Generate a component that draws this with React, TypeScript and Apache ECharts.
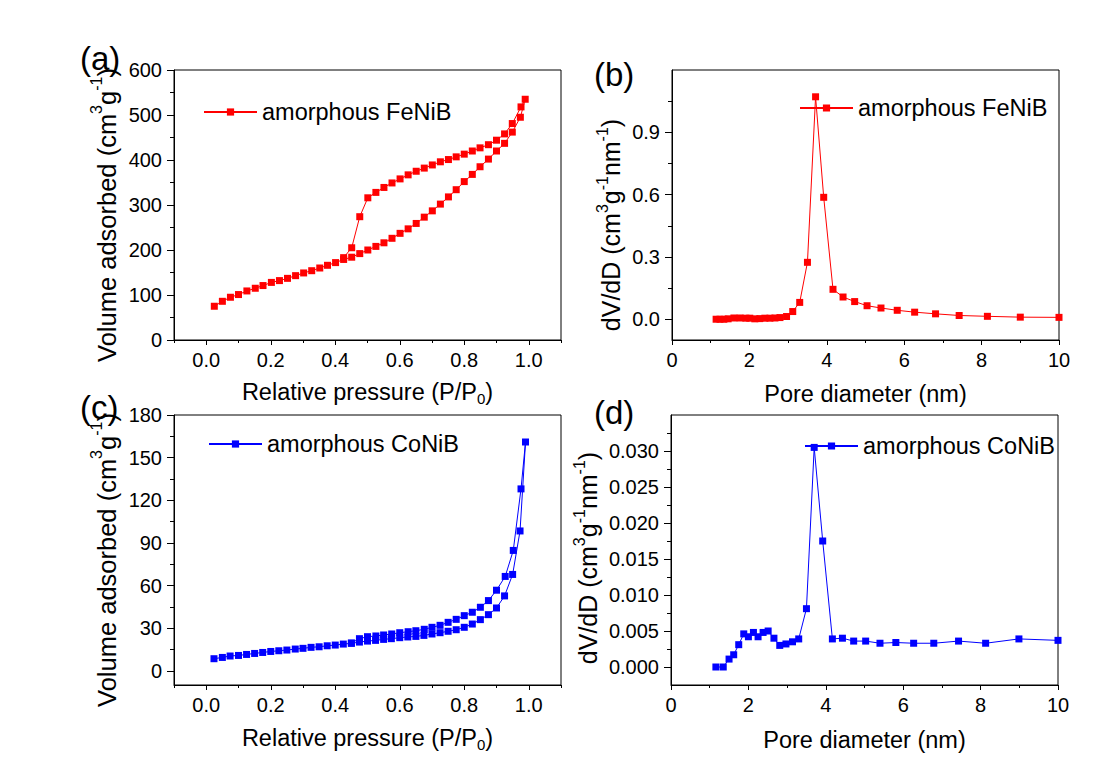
import React, { useEffect, useRef } from "react";
import * as echarts from "echarts";

// ---------- data ----------
// (a) FeNiB N2 isotherm: adsorption then desorption branch
const fenibAdsP = [0.025, 0.05, 0.075, 0.10, 0.126, 0.152, 0.176, 0.202, 0.227, 0.252, 0.277, 0.302, 0.327, 0.352, 0.376, 0.401, 0.426, 0.451, 0.476, 0.501, 0.526, 0.551, 0.576, 0.601, 0.626, 0.651, 0.676, 0.701, 0.726, 0.751, 0.775, 0.80, 0.825, 0.849, 0.875, 0.90, 0.925, 0.949, 0.974, 0.989];
const fenibAdsV = [75, 86, 95, 101, 109, 115, 121, 128, 132, 137, 143, 149, 154, 160, 166, 172, 179, 184, 192, 200, 208, 216, 226, 237, 247, 259, 273, 287, 302, 318, 334, 352, 368, 385, 402, 420, 437, 462, 495, 535];
const fenibDesP = [0.976, 0.949, 0.925, 0.90, 0.875, 0.849, 0.825, 0.80, 0.775, 0.751, 0.726, 0.701, 0.676, 0.651, 0.626, 0.601, 0.576, 0.551, 0.526, 0.501, 0.476, 0.451, 0.426];
const fenibDesV = [518, 481, 458, 444, 434, 427, 420, 413, 407, 401, 396, 389, 382, 375, 367, 358, 349, 339, 328, 316, 274, 205, 183];

// (b) FeNiB pore size distribution
const fenibPsdD = [1.14, 1.24, 1.34, 1.45, 1.60, 1.76, 1.91, 2.01, 2.14, 2.27, 2.40, 2.53, 2.66, 2.79, 2.96, 3.12, 3.30, 3.50, 3.71, 3.92, 4.16, 4.42, 4.72, 5.04, 5.40, 5.82, 6.27, 6.81, 7.42, 8.15, 9.0, 10.0];
const fenibPsdV = [0, 0, 0, 0.002, 0.006, 0.006, 0.005, 0.005, 0.002, 0.003, 0.005, 0.005, 0.006, 0.008, 0.013, 0.037, 0.081, 0.274, 1.071, 0.587, 0.144, 0.107, 0.085, 0.065, 0.054, 0.043, 0.034, 0.026, 0.018, 0.014, 0.010, 0.009];

// (c) CoNiB N2 isotherm
const conibAdsP = [0.024, 0.05, 0.074, 0.10, 0.125, 0.15, 0.175, 0.20, 0.225, 0.25, 0.276, 0.30, 0.325, 0.35, 0.375, 0.40, 0.425, 0.45, 0.475, 0.50, 0.525, 0.55, 0.574, 0.60, 0.625, 0.65, 0.675, 0.70, 0.725, 0.75, 0.775, 0.80, 0.825, 0.85, 0.875, 0.90, 0.925, 0.95, 0.973, 0.99];
const conibAdsV = [8.5, 9.4, 10.4, 10.8, 11.5, 12.2, 12.9, 13.6, 14.1, 14.6, 15.3, 15.8, 16.5, 16.9, 17.6, 18.1, 18.8, 19.3, 20.2, 20.9, 21.4, 22.1, 22.6, 23.3, 23.8, 24.2, 24.9, 25.9, 26.8, 27.8, 28.9, 30.6, 32.9, 36.0, 39.5, 44.2, 52.7, 67.8, 98.4, 161];
const conibDesP = [0.976, 0.952, 0.927, 0.90, 0.875, 0.85, 0.825, 0.80, 0.775, 0.75, 0.725, 0.70, 0.676, 0.65, 0.626, 0.60, 0.575, 0.55, 0.526, 0.50, 0.475, 0.45];
const conibDesV = [128, 84.7, 66.4, 56.7, 49.4, 44.7, 41.2, 38.8, 36.2, 34.1, 32.0, 30.6, 29.2, 28.2, 27.5, 26.8, 25.9, 25.2, 24.5, 24.0, 22.6, 19.6];

// (d) CoNiB pore size distribution
const conibPsdD = [1.16, 1.35, 1.50, 1.62, 1.75, 1.88, 2.0, 2.13, 2.25, 2.38, 2.51, 2.66, 2.81, 2.97, 3.14, 3.30, 3.50, 3.70, 3.92, 4.17, 4.43, 4.72, 5.03, 5.40, 5.81, 6.27, 6.79, 7.43, 8.13, 8.99, 10.0];
const conibPsdV = [0, 0, 0.0011, 0.0017, 0.0031, 0.0046, 0.0042, 0.0048, 0.0042, 0.0048, 0.0050, 0.0040, 0.0030, 0.0032, 0.0035, 0.0039, 0.0081, 0.0305, 0.0175, 0.0039, 0.0040, 0.0036, 0.0036, 0.0033, 0.0034, 0.0033, 0.0033, 0.0036, 0.0033, 0.0039, 0.0037];

// ticks
const isoXTicks = [0, 0.2, 0.4, 0.6, 0.8, 1.0];
const isoXMinor = [-0.1, 0.1, 0.3, 0.5, 0.7, 0.9, 1.1];
const psdXTicks = [0, 2, 4, 6, 8, 10];
const psdXMinor = [1, 3, 5, 7, 9];
const fenibYTicks = [0, 100, 200, 300, 400, 500, 600];
const fenibYMinor = [50, 150, 250, 350, 450, 550];
const fenibPsdYTicks = [0, 0.3, 0.6, 0.9];
const fenibPsdYMinor = [0.15, 0.45, 0.75, 1.05];
const conibYTicks = [0, 30, 60, 90, 120, 150, 180];
const conibYMinor = [15, 45, 75, 105, 135, 165];
const conibPsdYTicks = [0, 0.005, 0.01, 0.015, 0.02, 0.025, 0.03];
const conibPsdYMinor = [0.0025, 0.0075, 0.0125, 0.0175, 0.0225, 0.0275, 0.0325];

const FENIB = "amorphous FeNiB";
const CONIB = "amorphous CoNiB";

const FONT = "'Liberation Sans', Arial, Helvetica, sans-serif";
const RED = "#ff0000";
const BLUE = "#0000ff";

const zip = (xs: number[], ys: number[]) => xs.map((x, i) => [x, ys[i]]);

function yRich(fs: number, supFs: number, lh: number) {
  return {
    n: { fontSize: fs, fontFamily: FONT, color: "#000", lineHeight: lh },
    sup: { fontSize: supFs, fontFamily: FONT, color: "#000", lineHeight: supFs, verticalAlign: "top" },
  };
}
const xRich = {
  n: { fontSize: 23.5, fontFamily: FONT, color: "#000", lineHeight: 28 },
  sub: { fontSize: 15, fontFamily: FONT, color: "#000", lineHeight: 12, verticalAlign: "bottom" },
};

function mainAxis(o: any) {
  return {
    type: "value",
    gridIndex: o.grid,
    min: o.min,
    max: o.max,
    position: o.position,
    axisLine: { show: true, onZero: false, lineStyle: { color: "#000", width: 1 } },
    axisTick: { show: true, customValues: o.ticks, length: o.tickLen, lineStyle: { color: "#000", width: 1 } },
    axisLabel: {
      show: true,
      customValues: o.ticks,
      formatter: o.fmt,
      color: "#000",
      fontSize: 20,
      fontFamily: FONT,
      margin: o.margin,
    },
    splitLine: { show: false },
    name: o.name,
    nameLocation: "middle",
    nameGap: o.nameGap,
    nameTextStyle: {
      rich: o.rich,
      fontSize: o.rich.n.fontSize,
      lineHeight: o.rich.n.lineHeight,
      fontFamily: FONT,
      color: "#000",
      padding: o.namePad || 0,
    },
  };
}

function minorAxis(o: any) {
  return {
    type: "value",
    gridIndex: o.grid,
    min: o.min,
    max: o.max,
    position: o.position,
    axisLine: { show: false, onZero: false },
    axisTick: { show: true, customValues: o.ticks, length: o.tickLen, lineStyle: { color: "#000", width: 1 } },
    axisLabel: { show: false },
    splitLine: { show: false },
  };
}

function lineSeries(name: string, color: string, idx: number, data: number[][]) {
  return {
    type: "line",
    name,
    xAxisIndex: idx * 2,
    yAxisIndex: idx * 2,
    data,
    symbol: "rect",
    symbolSize: 7,
    showAllSymbol: true,
    itemStyle: { color },
    lineStyle: { color, width: 1 },
    emphasis: { disabled: true },
  };
}

function legend(name: string, left: number, top: number) {
  return {
    data: [name],
    left,
    top,
    orient: "horizontal",
    itemWidth: 53,
    itemHeight: 9,
    selectedMode: false,
    padding: 0,
    textStyle: { fontSize: 23.5, fontFamily: FONT, color: "#000" },
  };
}

const fmt1 = (v: number) => v.toFixed(1);
const fmt3 = (v: number) => v.toFixed(3);
const fmt0 = (v: number) => String(Math.round(v));

export default function App() {
  const ref = useRef<HTMLDivElement>(null);
  useEffect(() => {
    const chart = echarts.init(ref.current!, null, { renderer: "svg" });
    const gridBase = { show: true, borderColor: "#000", borderWidth: 1, width: 387, height: 270, outerBoundsMode: "none", containLabel: false };
    const isoName = "Relative pressure (P/P{sub|0})";
    const volName = "Volume adsorbed (cm{sup|3}g{sup|-1})";
    const poreName = "Pore diameter (nm)";
    const psdName = "dV/dD (cm{sup|3}g{sup|-1}nm{sup|-1})";
    const volRich = yRich(25.5, 16, 36);
    const psdRich = yRich(25, 16, 34);
    const XT = 5, XM = 3, YT = 7, YM = 4;
    const option: any = {
      animation: false,
      textStyle: { fontFamily: FONT },
      grid: [
        { ...gridBase, left: 174, top: 70 },
        { ...gridBase, left: 672, top: 70 },
        { ...gridBase, left: 174, top: 415 },
        { ...gridBase, left: 671, top: 415 },
      ],
      xAxis: [
        mainAxis({ grid: 0, min: -0.1, max: 1.1, position: "bottom", ticks: isoXTicks, fmt: fmt1, margin: 10, name: isoName, nameGap: 38, rich: xRich, tickLen: XT }),
        minorAxis({ grid: 0, min: -0.1, max: 1.1, position: "bottom", ticks: isoXMinor, tickLen: XM }),
        mainAxis({ grid: 1, min: 0, max: 10, position: "bottom", ticks: psdXTicks, fmt: fmt0, margin: 10, name: poreName, nameGap: 40, rich: xRich, tickLen: XT }),
        minorAxis({ grid: 1, min: 0, max: 10, position: "bottom", ticks: psdXMinor, tickLen: XM }),
        mainAxis({ grid: 2, min: -0.1, max: 1.1, position: "bottom", ticks: isoXTicks, fmt: fmt1, margin: 10, name: isoName, nameGap: 39, rich: xRich, tickLen: XT }),
        minorAxis({ grid: 2, min: -0.1, max: 1.1, position: "bottom", ticks: isoXMinor, tickLen: XM }),
        mainAxis({ grid: 3, min: 0, max: 10, position: "bottom", ticks: psdXTicks, fmt: fmt0, margin: 10, name: poreName, nameGap: 41, rich: xRich, tickLen: XT }),
        minorAxis({ grid: 3, min: 0, max: 10, position: "bottom", ticks: psdXMinor, tickLen: XM }),
      ],
      yAxis: [
        mainAxis({ grid: 0, min: 0, max: 600, position: "left", ticks: fenibYTicks, fmt: fmt0, margin: 12, name: volName, nameGap: 49, rich: volRich, tickLen: YT, namePad: [0, 20, 0, 0] }),
        minorAxis({ grid: 0, min: 0, max: 600, position: "left", ticks: fenibYMinor, tickLen: YM }),
        mainAxis({ grid: 1, min: -0.1, max: 1.2, position: "left", ticks: fenibPsdYTicks, fmt: fmt1, margin: 12, name: psdName, nameGap: 42, rich: psdRich, tickLen: YT, namePad: [0, 40, 0, 0] }),
        minorAxis({ grid: 1, min: -0.1, max: 1.2, position: "left", ticks: fenibPsdYMinor, tickLen: YM }),
        mainAxis({ grid: 2, min: -10, max: 180, position: "left", ticks: conibYTicks, fmt: fmt0, margin: 12, name: volName, nameGap: 48, rich: volRich, tickLen: YT, namePad: [0, 20, 0, 0] }),
        minorAxis({ grid: 2, min: -10, max: 180, position: "left", ticks: conibYMinor, tickLen: YM }),
        mainAxis({ grid: 3, min: -0.0025, max: 0.035, position: "left", ticks: conibPsdYTicks, fmt: fmt3, margin: 12, name: psdName, nameGap: 63, rich: psdRich, tickLen: YT, namePad: [0, 16, 0, 0] }),
        minorAxis({ grid: 3, min: -0.0025, max: 0.035, position: "left", ticks: conibPsdYMinor, tickLen: YM }),
      ],
      legend: [
        legend(FENIB, 203, 100),
        legend(FENIB, 799, 96),
        legend(CONIB, 208, 432),
        legend(CONIB, 804, 434),
      ],
      series: [
        lineSeries(FENIB, RED, 0, [...zip(fenibAdsP, fenibAdsV), ...zip(fenibDesP, fenibDesV)]),
        lineSeries(FENIB, RED, 1, zip(fenibPsdD, fenibPsdV)),
        lineSeries(CONIB, BLUE, 2, [...zip(conibAdsP, conibAdsV), ...zip(conibDesP, conibDesV)]),
        lineSeries(CONIB, BLUE, 3, zip(conibPsdD, conibPsdV)),
      ],
      graphic: [
        { type: "text", left: 80, top: 42, style: { text: "(a)", fontSize: 33, fontFamily: FONT, fill: "#000" } },
        { type: "text", left: 594, top: 58, style: { text: "(b)", fontSize: 33, fontFamily: FONT, fill: "#000" } },
        { type: "text", left: 80, top: 391, style: { text: "(c)", fontSize: 33, fontFamily: FONT, fill: "#000" } },
        { type: "text", left: 594, top: 396, style: { text: "(d)", fontSize: 33, fontFamily: FONT, fill: "#000" } },
      ],
    };
    chart.setOption(option);
    return () => chart.dispose();
  }, []);
  return (
    <div
      ref={ref}
      style={{ position: "fixed", left: 0, top: 0, width: 1101, height: 769, background: "#fff" }}
    />
  );
}
